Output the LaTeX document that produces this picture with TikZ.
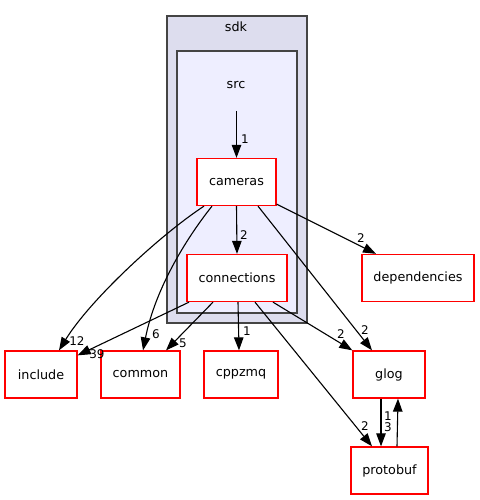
\documentclass[tikz,border=0pt]{standalone}
\usepackage{fontspec}
\setmainfont{DejaVu Sans}
\usetikzlibrary{arrows.meta}
\definecolor{sdkfill}{HTML}{DDDDEE}
\definecolor{srcfill}{HTML}{EEEEFF}
\definecolor{clusline}{HTML}{444444}

\begin{document}
\begin{tikzpicture}[x=1bp, y=-1bp,
	dirbox/.style={draw=red, fill=white, line width=1.3bp, minimum width=#1, minimum height=47bp, inner sep=0pt, font=\fontsize{12.8}{15}\selectfont},
	dirbox/.default=72bp,
	clus/.style={draw=clusline, line width=1.4bp, inner sep=0pt},
	clustxt/.style={inner sep=0pt, font=\fontsize{12.8}{15}\selectfont},
	dep/.style={line width=1.1bp, -{Triangle[length=13bp, width=9.5bp]}},
	lbl/.style={inner sep=0pt, font=\fontsize{12}{14}\selectfont}]
		\useasboundingbox (0,0) rectangle (480,500);
		\node[clus, fill=sdkfill, minimum width=140bp, minimum height=307bp] (sdk) at (237,169.5) {};
		\node[clustxt] (sdklbl) at (236,27) {sdk};
		\node[clus, fill=srcfill, minimum width=120bp, minimum height=262bp] (src) at (237,182) {};
		\node[clustxt] (srclbl) at (236,85) {src};
		\coordinate (srcpt) at (236.5,111);

		\node[dirbox=79bp] (cameras) at (236.5,182) {cameras};
		\node[dirbox=100bp] (connections) at (237,278) {connections};
		\node[dirbox=112bp] (dependencies) at (418,278) {dependencies};
		\node[dirbox] (include) at (41,374.5) {include};
		\node[dirbox=79bp] (common) at (140.5,374.5) {common};
		\node[dirbox=74bp] (cppzmq) at (241,374.5) {cppzmq};
		\node[dirbox] (glog) at (389,374.5) {glog};
		\node[dirbox=77bp] (protobuf) at (389.5,470.5) {protobuf};

		\draw[dep] (srcpt) -- (cameras.north) node[lbl] at (245,139) {1};
		\draw[dep] (cameras.south) -- (connections.north) node[lbl] at (244,235) {2};
		\draw[dep] ([yshift=2bp]cameras.south east) -- ([xshift=-42bp]dependencies.north) node[lbl] at (361,238) {2};
		\draw[dep] ([xshift=21.5bp]cameras.south) -- ([xshift=-17bp]glog.north) node[lbl] at (365,330) {2};
		\draw[dep] ([xshift=-32.5bp]cameras.south) .. controls (160,235) and (90,300) .. ([xshift=18bp]include.north) node[lbl] at (77,341) {12};
		\draw[dep] ([xshift=-24.5bp]cameras.south) .. controls (185,240) and (155,290) .. ([xshift=2.5bp]common.north) node[lbl] at (156,334) {6};

		\draw[dep] ([xshift=-48bp]connections.south) -- ([yshift=-5bp]include.north east) node[lbl] at (97,354) {39};
		\draw[dep] ([xshift=-24bp]connections.south) -- ([xshift=25.5bp]common.north) node[lbl] at (183,343) {5};
		\draw[dep] ([xshift=1bp]connections.south) -- ([xshift=-2bp]cppzmq.north) node[lbl] at (247,331) {1};
		\draw[dep] ([xshift=36bp]connections.south) -- (glog.north west) node[lbl] at (341,334) {2};
		\draw[dep] ([xshift=18bp]connections.south) -- ([xshift=-17.5bp]protobuf.north) node[lbl] at (365,426) {2};

		\draw[dep] ([xshift=-8bp]glog.south) -- ([xshift=-8.5bp]protobuf.north) node[lbl] at (388,416) {1} node[lbl] at (388,427) {3};
		\draw[dep] ([xshift=7.5bp]protobuf.north) -- ([xshift=9bp]glog.south);
\end{tikzpicture}
\end{document}
